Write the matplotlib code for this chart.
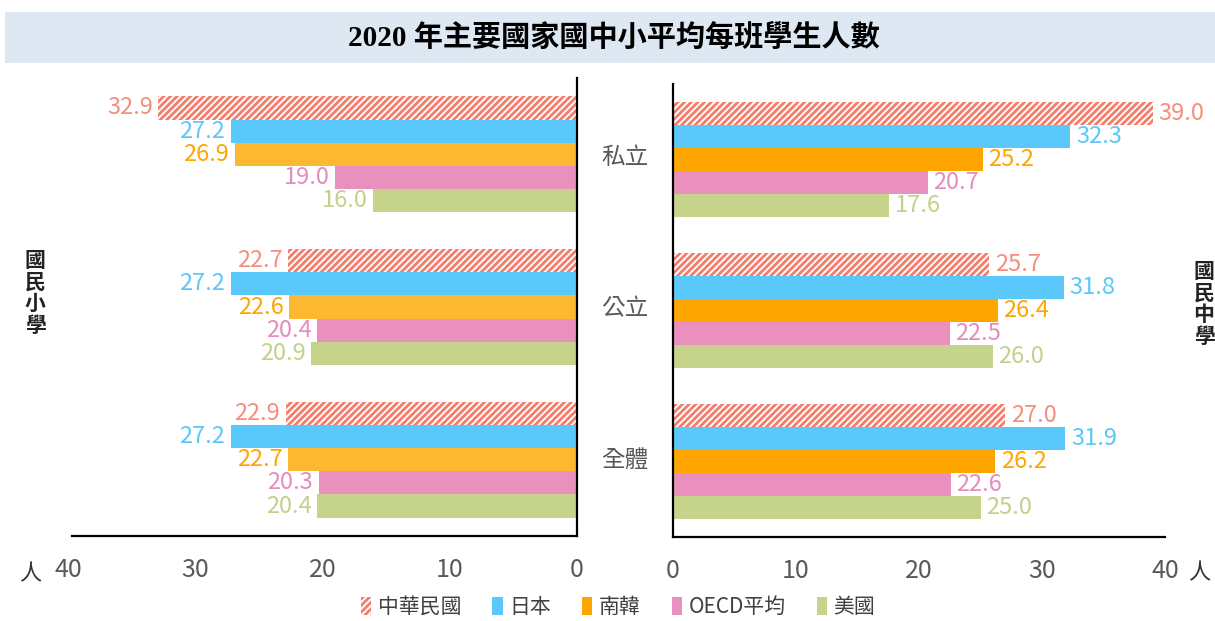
import matplotlib
matplotlib.use("Agg")
import matplotlib.pyplot as plt
from matplotlib.patches import Rectangle

plt.rcParams['font.family'] = ['Noto Sans CJK TC', 'DejaVu Sans']
plt.rcParams['hatch.linewidth'] = 2.0

TITLE = "2020 年主要國家國中小平均每班學生人數"
GROUPS = ["私立", "公立", "全體"]
SERIES = ["中華民國", "日本", "南韓", "OECD平均", "美國"]

# 國民小學 (left), rows follow GROUPS, columns follow SERIES
PRIMARY = [
    [32.9, 27.2, 26.9, 19.0, 16.0],
    [22.7, 27.2, 22.6, 20.4, 20.9],
    [22.9, 27.2, 22.7, 20.3, 20.4],
]
# 國民中學 (right)
SECONDARY = [
    [39.0, 32.3, 25.2, 20.7, 17.6],
    [25.7, 31.8, 26.4, 22.5, 26.0],
    [27.0, 31.9, 26.2, 22.6, 25.0],
]
TICKS = [0, 10, 20, 30, 40]

BAR_COLORS_L = ["white", "#5AC8FA", "#FDB831", "#EA90BE", "#C6D38A"]
BAR_COLORS_R = ["white", "#5AC8FA", "#FFA500", "#EA90BE", "#C6D38A"]
LABEL_COLORS = ["#F58E7C", "#5AC8FA", "#FFA500", "#E68BBE", "#C2D18A"]
HATCH_COLOR = "#F47C6A"
GRAY = "#595959"

W, H = 1215, 621
fig = plt.figure(figsize=(W / 100, H / 100), dpi=100)


def frac(x0, y0, x1, y1):
    return [x0 / W, 1 - y1 / H, (x1 - x0) / W, (y1 - y0) / H]


# title band
fig.patches.append(Rectangle((5 / W, 1 - 63 / H), 1, 51 / H, transform=fig.transFigure,
                             facecolor="#DDE8F3", edgecolor="none", zorder=0))
fig.text(0.505, 1 - 38 / H, TITLE, ha="center", va="center", fontsize=21,
         fontweight="bold", family=["Liberation Serif", "Noto Sans CJK TC"])

axL = fig.add_axes(frac(68, 78, 577, 536))
axR = fig.add_axes(frac(673, 84, 1165, 537))

bh = 0.152
for ax, data, colors, side in [(axL, PRIMARY, BAR_COLORS_L, "L"),
                               (axR, SECONDARY, BAR_COLORS_R, "R")]:
    for j, name in enumerate(SERIES):
        ys = [g + (j - 2) * bh for g in range(len(GROUPS))]
        vals = [row[j] for row in data]
        if j == 0:
            ax.barh(ys, vals, height=bh, color="white", edgecolor=HATCH_COLOR,
                    linewidth=0, hatch="/////", label=name)
        else:
            ax.barh(ys, vals, height=bh, color=colors[j], linewidth=0, label=name)
        for y, v in zip(ys, vals):
            off = -4 if side == "L" else 4
            ax.annotate(f"{v:.1f}", (v, y), xytext=(off, 0), textcoords="offset points",
                        ha="right" if side == "L" else "left", va="center",
                        fontsize=17, color=LABEL_COLORS[j])
    ax.set_ylim(len(GROUPS) - 0.5, -0.5)
    ax.set_yticks([])
    ax.set_xticks(TICKS)
    ax.tick_params(axis="x", length=0, pad=15, labelsize=18, labelcolor=GRAY)
    for s in ax.spines.values():
        s.set_visible(False)
    ax.spines["bottom"].set_visible(True)
    ax.spines["bottom"].set_linewidth(1.6)
    ax.set_facecolor("none")

axL.set_xlim(40, 0)
axL.spines["bottom"].set_bounds(39.7, 0)
axL.spines["right"].set_visible(True)
axL.spines["right"].set_linewidth(1.6)
axR.set_xlim(0, 40)
axR.spines["left"].set_visible(True)
axR.spines["left"].set_linewidth(1.6)

# group names between the two panels
for g, name in enumerate(GROUPS):
    fig.text(625 / W, 1 - (157 + 152 * g) / H, name, ha="center", va="center",
             fontsize=17, color=GRAY)

fig.text(35 / W, 1 - 293 / H, "\n".join("國民小學"), ha="center", va="center",
         fontsize=15, fontweight="bold", color="#222222", linespacing=1.05)
fig.text(1204 / W, 1 - 304 / H, "\n".join("國民中學"), ha="center", va="center",
         fontsize=15, fontweight="bold", color="#222222", linespacing=1.05)
fig.text(30 / W, 1 - 574 / H, "人", ha="center", va="center", fontsize=16, color="#333333")
fig.text(1199 / W, 1 - 573 / H, "人", ha="center", va="center", fontsize=16, color="#333333")

handles, labels = axR.get_legend_handles_labels()
fig.legend(handles, labels, loc="center", bbox_to_anchor=(618 / W, 1 - 607 / H),
           ncol=5, frameon=False, fontsize=15, handlelength=0.5, handleheight=1.0,
           handletextpad=0.3, columnspacing=1.5, labelcolor="#404040")

fig.savefig("out.png", dpi=100)
